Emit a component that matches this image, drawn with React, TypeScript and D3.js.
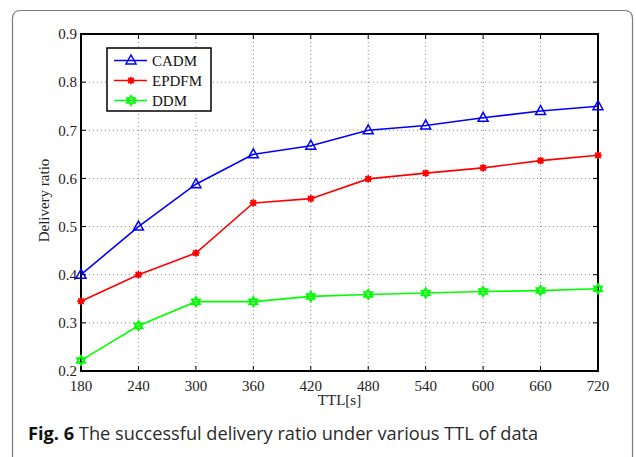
import React from "react"
import { scaleLinear, line, range } from "d3"

const ttl = [180, 240, 300, 360, 420, 480, 540, 600, 660, 720]
const cadm = [0.4, 0.5, 0.588, 0.65, 0.668, 0.7, 0.71, 0.726, 0.74, 0.75]
const epdfm = [0.345, 0.4, 0.445, 0.549, 0.558, 0.599, 0.611, 0.622, 0.637, 0.648]
const ddm = [0.222, 0.294, 0.344, 0.344, 0.355, 0.359, 0.362, 0.365, 0.367, 0.371]
const yTicks = [0.2, 0.3, 0.4, 0.5, 0.6, 0.7, 0.8, 0.9]
const seriesNames = ["CADM", "EPDFM", "DDM"]
const caption = "The successful delivery ratio under various TTL of data"

const width = 636
const height = 457
const margin = { top: 34, right: 38, bottom: 86, left: 81 }
const innerWidth = width - margin.left - margin.right
const innerHeight = height - margin.top - margin.bottom

const serif = "'Liberation Serif', 'Times New Roman', serif"

const hexagram = (r: number) => {
  const tri = (off: number) =>
    range(3)
      .map((i) => {
        const a = off + (i * 2 * Math.PI) / 3
        return `${i === 0 ? "M" : "L"}${(r * Math.sin(a)).toFixed(2)},${(-r * Math.cos(a)).toFixed(2)}`
      })
      .join("") + "Z"
  return tri(0) + tri(Math.PI)
}

const Marker = ({ kind, color }: { kind: number; color: string }) => {
  if (kind === 0) {
    return <path d="M0,-5.5L5,3.5L-5,3.5Z" fill="none" stroke={color} strokeWidth={1.5} />
  }
  if (kind === 1) {
    return (
      <g stroke={color} strokeWidth={1.6}>
        <circle r={2.8} fill={color} stroke="none" />
        <line x1={-3.8} x2={3.8} />
        <line y1={-3.8} y2={3.8} />
        <line x1={-2.8} y1={-2.8} x2={2.8} y2={2.8} />
        <line x1={-2.8} y1={2.8} x2={2.8} y2={-2.8} />
      </g>
    )
  }
  return <path d={hexagram(5)} fill="none" stroke={color} strokeWidth={1.5} />
}

function App() {
  const xScale = scaleLinear().domain([180, 720]).range([0, innerWidth])
  const yScale = scaleLinear().domain([0.2, 0.9]).range([innerHeight, 0])

  const series = [
    { name: seriesNames[0], values: cadm, color: "#0000ff" },
    { name: seriesNames[1], values: epdfm, color: "#ff0000" },
    { name: seriesNames[2], values: ddm, color: "#00ff00" },
  ]

  const path = line<number>()
    .x((_, i) => xScale(ttl[i]))
    .y((d) => yScale(d))

  return (
    <svg width={width} height={height} style={{ position: "absolute", left: 0, top: 0, background: "#fff" }}>
      <path
        d={`M12.5,${height + 2}V18.5Q12.5,10.5 20.5,10.5H624.5Q632.5,10.5 632.5,18.5V${height + 2}`}
        fill="none"
        stroke="#7a7a7a"
        strokeWidth={1.2}
      />
      <g transform={`translate(${margin.left}, ${margin.top})`}>
        {ttl.map((t) => (
          <g key={t} transform={`translate(${xScale(t)}, 0)`}>
            {t > 180 && t < 720 && (
              <line y2={innerHeight} stroke="#888" strokeDasharray="1,3" />
            )}
            <line y2={5} stroke="#000" />
            <line y1={innerHeight - 5} y2={innerHeight} stroke="#000" />
            <text
              y={innerHeight + 20}
              textAnchor="middle"
              fontFamily={serif}
              fontSize={15}
              fill="#222"
            >{t}</text>
          </g>
        ))}
        {yTicks.map((v) => (
          <g key={v} transform={`translate(0, ${yScale(v)})`}>
            {v > 0.2 && v < 0.9 && (
              <line x2={innerWidth} stroke="#888" strokeDasharray="1,3" />
            )}
            <line x2={5} stroke="#000" />
            <line x1={innerWidth - 5} x2={innerWidth} stroke="#000" />
            <text
              x={-4}
              dy="0.35em"
              textAnchor="end"
              fontFamily={serif}
              fontSize={15}
              fill="#222"
            >{v.toFixed(1)}</text>
          </g>
        ))}
        <rect width={innerWidth} height={innerHeight} fill="none" stroke="#000" strokeWidth={2} />
        {series.map((s, k) => (
          <g key={s.name}>
            <path d={path(s.values) || ""} fill="none" stroke={s.color} strokeWidth={1.6} />
            {s.values.map((v, i) => (
              <g key={i} transform={`translate(${xScale(ttl[i])}, ${yScale(v)})`}>
                <Marker kind={k} color={s.color} />
              </g>
            ))}
          </g>
        ))}
        <g transform="translate(26, 14)">
          <rect width={104} height={63} fill="#fff" stroke="#000" strokeWidth={1.5} />
          {series.map((s, k) => (
            <g key={s.name} transform={`translate(0, ${12.5 + k * 20})`}>
              <line x1={7} x2={40} stroke={s.color} strokeWidth={1.6} />
              <g transform="translate(24, 0)">
                <Marker kind={k} color={s.color} />
              </g>
              <text x={45} dy="0.35em" fontFamily={serif} fontSize={15} fill="#111">{s.name}</text>
            </g>
          ))}
        </g>
        <text
          x={innerWidth / 2}
          y={innerHeight + 34}
          textAnchor="middle"
          fontFamily={serif}
          fontSize={15}
          fill="#222"
        >TTL[s]</text>
        <text
          transform={`translate(-32, ${innerHeight / 2 - 2}) rotate(-90)`}
          textAnchor="middle"
          fontFamily={serif}
          fontSize={15}
          fill="#222"
        >Delivery ratio</text>
      </g>
      <text x={28} y={440} fontFamily="'Open Sans', sans-serif" fontSize={18.2} fill="#2a2a2a">
        <tspan fontWeight="bold" fill="#111">Fig. 6</tspan> {caption}
      </text>
    </svg>
  )
}

export default App
